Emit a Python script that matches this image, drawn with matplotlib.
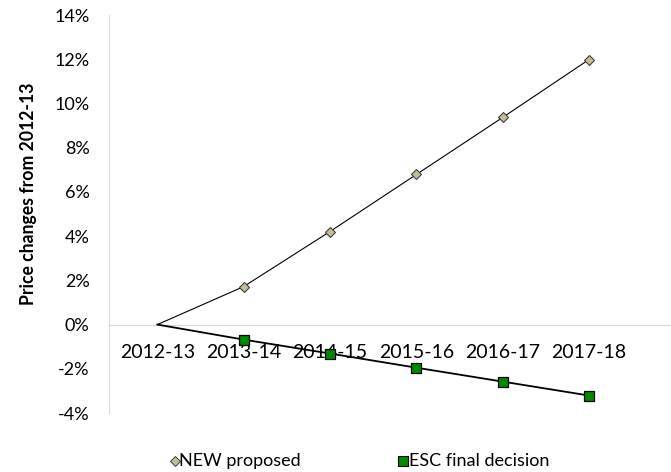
import matplotlib.pyplot as plt
from matplotlib.ticker import FuncFormatter

# DATA

years = ["2012-13", "2013-14", "2014-15", "2015-16", "2016-17", "2017-18"]

new_proposed = [0.0, 1.72, 4.21, 6.79, 9.37, 11.99]

esc_final = [0.0, -0.68, -1.31, -1.95, -2.58, -3.21]


def main():

    plt.rcParams["font.family"] = ["Lato", "DejaVu Sans"]

    fig = plt.figure(figsize=(6.71, 4.72), dpi=100)

    ax = fig.add_axes([0.1625, 0.125, 0.8375, 0.843])

    x = list(range(len(years)))

    # NEW PROPOSED (first point has no marker)

    ax.plot(x, new_proposed, color="black", linewidth=0.8, zorder=3)

    ax.plot(
        x[1:],
        new_proposed[1:],
        linestyle="none",
        marker="D",
        markersize=5,
        markerfacecolor="#c4bd97",
        markeredgecolor="#404040",
        markeredgewidth=0.8,
        zorder=4
    )

    # ESC FINAL DECISION

    ax.plot(x, esc_final, color="black", linewidth=1.3, zorder=3)

    ax.plot(
        x[1:],
        esc_final[1:],
        linestyle="none",
        marker="s",
        markersize=7,
        markerfacecolor="#008a00",
        markeredgecolor="black",
        markeredgewidth=0.9,
        zorder=4
    )

    # AXES

    for side in ["top", "right"]:
        ax.spines[side].set_visible(False)

    ax.spines["left"].set_color("#d9d9d9")
    ax.spines["bottom"].set_color("#d9d9d9")
    ax.spines["bottom"].set_position(("data", 0))

    ax.set_xlim(-0.56, 5.95)
    ax.set_ylim(-4, 14)

    ax.set_yticks(range(-4, 15, 2))
    ax.yaxis.set_major_formatter(
        FuncFormatter(lambda v, p: "%d%%" % v)
    )

    ax.set_xticks(x)
    ax.set_xticklabels(years)

    ax.tick_params(axis="x", length=0, pad=14, labelsize=14)
    ax.tick_params(axis="y", length=0, labelsize=13, pad=14)

    ax.set_ylabel(
        "Price changes from 2012-13",
        fontsize=12.7,
        fontweight="bold"
    )

    ax.yaxis.set_label_coords(-0.129, 0.55)

    # LEGEND

    fig.text(0.267, 0.024, "NEW proposed", fontsize=13, va="center")
    fig.text(0.609, 0.024, "ESC final decision", fontsize=13, va="center")

    fig.lines.append(plt.Line2D(
        [0.261], [0.024], transform=fig.transFigure,
        marker="D", markersize=5, linestyle="none",
        markerfacecolor="#c4bd97", markeredgecolor="#404040",
        markeredgewidth=0.7
    ))

    fig.lines.append(plt.Line2D(
        [0.601], [0.024], transform=fig.transFigure,
        marker="s", markersize=7, linestyle="none",
        markerfacecolor="#008a00", markeredgecolor="black",
        markeredgewidth=0.8
    ))

    # SAVE IMAGE

    fig.savefig("out.png", dpi=100)


if __name__ == "__main__":

    main()
